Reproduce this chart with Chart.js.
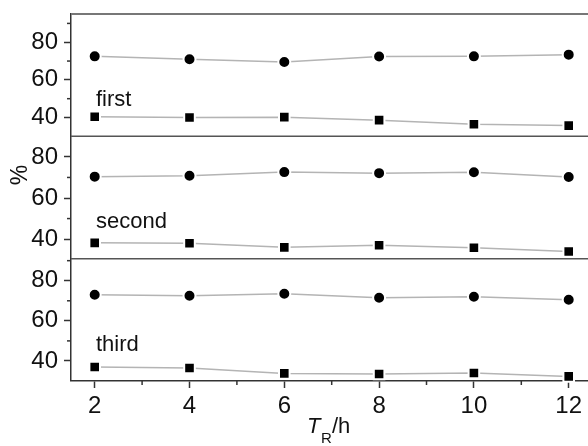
<!DOCTYPE html>
<html>
<head>
<meta charset="utf-8">
<script src="https://cdn.jsdelivr.net/npm/chart.js@4.4.1/dist/chart.umd.min.js"></script>
<style>
  html, body { margin: 0; padding: 0; background: #fff; }
</style>
</head>
<body>
<canvas id="chart" width="588" height="446"></canvas>
<script>
const hours = [2, 4, 6, 8, 10, 12];
const yTicks = [40, 60, 80];
const panelNames = ["first", "second", "third"];

// circles (upper series) and squares (lower series) for each panel
const firstCircle = [72.5, 71.0, 69.5, 72.4, 72.5, 73.4];
const firstSquare = [40.4, 40.0, 40.2, 38.6, 36.4, 35.7];
const secondCircle = [70.4, 70.8, 72.6, 72.1, 72.5, 70.2];
const secondSquare = [38.2, 38.0, 36.0, 37.0, 35.8, 34.0];
const thirdCircle = [73.0, 72.5, 73.5, 71.5, 72.0, 70.5];
const thirdSquare = [37.0, 36.5, 33.8, 33.5, 34.0, 32.3];

const font = "Arial, 'Liberation Sans', sans-serif";
const axisColor = "#333";

const toPts = (ys) => hours.map((x, i) => ({ x: x, y: ys[i] }));

function series(ys, axis, style) {
  return {
    data: toPts(ys),
    yAxisID: axis,
    borderColor: "#b4b4b4",
    borderWidth: 1.5,
    pointStyle: style,
    pointRadius: style === "rect" ? 7.5 : 6,
    pointBackgroundColor: "#000",
    pointBorderColor: "#fff",
    pointBorderWidth: 2,
    tension: 0,
    clip: false,
  };
}

function panelAxis(min, max) {
  return {
    type: "linear",
    position: "left",
    stack: "panels",
    stackWeight: 1,
    min: min,
    max: max,
    afterBuildTicks: (s) => { s.ticks = yTicks.map(v => ({ value: v })); },
    afterFit: (s) => { s.width = 71; s.paddingTop = 0; s.paddingBottom = 0; },
    grid: { drawOnChartArea: false, tickLength: 7, tickColor: axisColor, tickWidth: 1.5 },
    border: { color: axisColor, width: 1.5 },
    ticks: { font: { size: 24, family: font }, color: "#111", padding: 6 },
  };
}

const panelPlugin = {
  id: "panels",
  afterDraw(chart) {
    const ctx = chart.ctx;
    const area = chart.chartArea;
    const ys = ["y1", "y2", "y3"].map(id => chart.scales[id]);
    const x = chart.scales.x;
    ctx.save();

    // top frame line and panel separators (right edge falls outside the picture)
    ctx.strokeStyle = "#777";
    ctx.lineWidth = 2;
    ctx.beginPath();
    ctx.moveTo(area.left, area.top);
    ctx.lineTo(area.right + 2, area.top);
    ctx.stroke();
    ctx.strokeStyle = "#555";
    ctx.lineWidth = 1.5;
    ys.forEach((s) => {
      if (s.top <= area.top + 1) return;
      ctx.beginPath();
      ctx.moveTo(area.left, s.top);
      ctx.lineTo(area.right + 2, s.top);
      ctx.stroke();
    });

    // minor ticks
    ctx.strokeStyle = axisColor;
    ctx.lineWidth = 1.5;
    ys.forEach(s => {
      [30, 50, 70, 90].forEach(v => {
        if (v <= s.min || v >= s.max) return;
        const py = s.getPixelForValue(v);
        ctx.beginPath();
        ctx.moveTo(area.left - 4, py);
        ctx.lineTo(area.left, py);
        ctx.stroke();
      });
    });
    [3, 5, 7, 9, 11].forEach(v => {
      const px = x.getPixelForValue(v);
      ctx.beginPath();
      ctx.moveTo(px, area.bottom);
      ctx.lineTo(px, area.bottom + 4);
      ctx.stroke();
    });

    // panel names
    ctx.fillStyle = "#111";
    ctx.font = "22px " + font;
    ctx.textBaseline = "alphabetic";
    ys.forEach((s, i) => {
      ctx.fillText(panelNames[i], 96, s.top + 92);
    });

    // axis titles
    ctx.font = "italic 22px " + font;
    ctx.fillText("T", 307, 433);
    ctx.font = "15px " + font;
    ctx.fillText("R", 321, 443);
    ctx.font = "22px " + font;
    ctx.fillText("/h", 332, 433);

    ctx.translate(27, 175);
    ctx.rotate(-Math.PI / 2);
    ctx.textAlign = "center";
    ctx.font = "23px " + font;
    ctx.fillText("%", 0, 0);
    ctx.restore();
  },
};

new Chart(document.getElementById("chart"), {
  type: "line",
  data: {
    datasets: [
      series(firstCircle, "y1", "circle"),
      series(firstSquare, "y1", "rect"),
      series(secondCircle, "y2", "circle"),
      series(secondSquare, "y2", "rect"),
      series(thirdCircle, "y3", "circle"),
      series(thirdSquare, "y3", "rect"),
    ],
  },
  options: {
    responsive: false,
    animation: false,
    layout: { autoPadding: false, padding: { left: 0, top: 14, right: 1, bottom: 0 } },
    plugins: { legend: { display: false }, tooltip: { enabled: false } },
    scales: {
      x: {
        type: "linear",
        position: "bottom",
        min: 1.5,
        max: 12.386,
        afterBuildTicks: (s) => { s.ticks = hours.map(v => ({ value: v })); },
        afterFit: (s) => { s.height = 65; s.paddingLeft = 0; s.paddingRight = 0; },
        grid: { drawOnChartArea: false, tickLength: 7, tickColor: axisColor, tickWidth: 1.5 },
        border: { color: axisColor, width: 1.5 },
        ticks: { font: { size: 24, family: font }, color: "#111", padding: 4 },
      },
      // stacked left axes: the last one listed is placed on top
      y3: panelAxis(30, 91),
      y2: panelAxis(30.5, 90),
      y1: panelAxis(30, 95),
    },
  },
  plugins: [panelPlugin],
});
</script>
</body>
</html>
